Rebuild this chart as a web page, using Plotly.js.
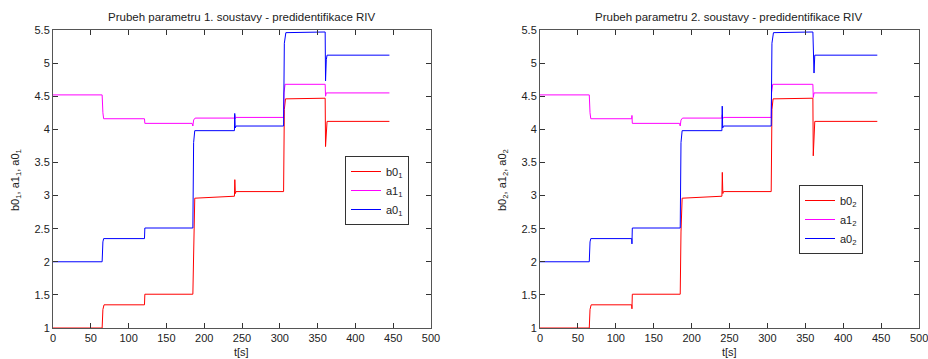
<!DOCTYPE html>
<html>
<head>
<meta charset="utf-8">
<script src="https://cdn.plot.ly/plotly-3.0.1.min.js"></script>
<style>
  html, body { margin: 0; padding: 0; background: #ffffff; overflow: hidden; }
  #chart { width: 940px; height: 359px; }
</style>
</head>
<body>
<div id="chart"></div>
<script>
// Parameter estimates of system 1 (time breakpoints and values)
const t_b0_1 = [0, 65, 66, 67.5, 121, 121.5, 185, 186, 187.5, 240, 240.5, 241.2, 242, 305, 306, 307.5, 360, 360.5, 361.5, 362.5, 445];
const b0_1   = [1.00, 1.00, 1.28, 1.35, 1.35, 1.51, 1.51, 2.45, 2.96, 2.99, 3.24, 3.03, 3.06, 3.06, 4.30, 4.46, 4.47, 3.74, 4.05, 4.12, 4.12];

const t_a1_1 = [0, 65, 66, 67, 121, 121.5, 184, 185, 186, 188, 240, 240.5, 241, 242, 305, 305.5, 307, 360, 360.5, 361.5, 445];
const a1_1   = [4.52, 4.52, 4.25, 4.16, 4.16, 4.09, 4.09, 4.05, 4.14, 4.17, 4.17, 4.21, 4.16, 4.18, 4.18, 4.55, 4.68, 4.68, 4.50, 4.55, 4.55];

const t_a0_1 = [0, 65, 66, 67, 121, 121.5, 185, 186, 187.5, 240, 240.4, 241, 242, 305, 306, 308, 360, 360.5, 361.5, 362.5, 445];
const a0_1   = [2.00, 2.00, 2.30, 2.35, 2.35, 2.51, 2.51, 3.80, 3.98, 3.98, 4.24, 4.02, 4.05, 4.05, 5.30, 5.46, 5.47, 4.73, 5.05, 5.12, 5.12];

// Parameter estimates of system 2
const t_b0_2 = [0, 65, 66, 67.5, 121, 121.3, 121.8, 185, 186, 187.5, 240, 240.5, 241.2, 242, 305, 306, 307.5, 360, 360.5, 361.5, 362.5, 445];
const b0_2   = [1.00, 1.00, 1.28, 1.35, 1.35, 1.29, 1.51, 1.51, 2.45, 2.96, 2.99, 3.35, 3.03, 3.06, 3.06, 4.30, 4.46, 4.47, 3.60, 4.02, 4.12, 4.12];

const t_a1_2 = [0, 65, 66, 67, 121, 121.3, 121.8, 184, 185, 186, 188, 240, 240.5, 241, 242, 305, 305.5, 307, 360, 360.5, 361.5, 445];
const a1_2   = [4.52, 4.52, 4.25, 4.16, 4.16, 4.21, 4.09, 4.09, 4.05, 4.14, 4.17, 4.17, 4.22, 4.16, 4.18, 4.18, 4.55, 4.68, 4.68, 4.48, 4.55, 4.55];

const t_a0_2 = [0, 65, 66, 67, 121, 121.3, 121.8, 185, 186, 187.5, 240, 240.4, 241, 242, 305, 306, 308, 360, 360.5, 361.5, 362.5, 445];
const a0_2   = [2.00, 2.00, 2.30, 2.35, 2.35, 2.27, 2.51, 2.51, 3.80, 3.98, 3.98, 4.35, 4.02, 4.05, 4.05, 5.30, 5.46, 5.47, 5.03, 4.85, 5.12, 5.12];

const xTicks = [0, 50, 100, 150, 200, 250, 300, 350, 400, 450, 500];
const yTicks = [1, 1.5, 2, 2.5, 3, 3.5, 4, 4.5, 5, 5.5];
const yTickText = ['1', '1.5', '2', '2.5', '3', '3.5', '4', '4.5', '5', '5.5'];

const RED = '#ff0000', MAG = '#ff00ff', BLUE = '#0000ff';
const FONT = 'Liberation Sans, Arial, sans-serif';

// Drawing surface is a little wider than the window so the last tick label keeps room
const W = 940, H = 359;
const lastTick = xTicks[xTicks.length - 1];

function line(x, y, color, name, xa, ya, leg) {
  return { x: x, y: y, type: 'scatter', mode: 'lines', name: name,
           line: { color: color, width: 1 }, xaxis: xa, yaxis: ya, legend: leg };
}

const data = [
  line(t_b0_1, b0_1, RED,  'b0<sub>1</sub>', 'x',  'y',  'legend'),
  line(t_a1_1, a1_1, MAG,  'a1<sub>1</sub>', 'x',  'y',  'legend'),
  line(t_a0_1, a0_1, BLUE, 'a0<sub>1</sub>', 'x',  'y',  'legend'),
  line(t_b0_2, b0_2, RED,  'b0<sub>2</sub>', 'x2', 'y2', 'legend2'),
  line(t_a1_2, a1_2, MAG,  'a1<sub>2</sub>', 'x2', 'y2', 'legend2'),
  line(t_a0_2, a0_2, BLUE, 'a0<sub>2</sub>', 'x2', 'y2', 'legend2')
];

const tickFont = { family: FONT, size: 11, color: '#222' };

function xAxis(domain, anchor, texts) {
  return { domain: domain, anchor: anchor, range: [0, 500], tickvals: xTicks, ticktext: texts,
           ticks: 'inside', ticklen: 5, tickcolor: '#333', showline: true, linecolor: '#555',
           linewidth: 1, mirror: 'ticks', showgrid: false, zeroline: false, tickfont: tickFont };
}
function yAxis(anchor) {
  return { domain: [1 - 328 / H, 1 - 30 / H], anchor: anchor, range: [1, 5.5], tickvals: yTicks,
           ticktext: yTickText, ticks: 'inside', ticklen: 5, tickcolor: '#333', showline: true,
           linecolor: '#555', linewidth: 1, mirror: 'ticks', showgrid: false, zeroline: false,
           tickfont: tickFont };
}

const legendStyle = {
  xref: 'paper', yref: 'paper', xanchor: 'left', yanchor: 'top',
  bgcolor: '#ffffff', bordercolor: '#333', borderwidth: 1,
  font: { family: FONT, size: 11, color: '#222' }, tracegroupgap: 0
};

function label(text, px, py, angle, size) {
  return { text: text, xref: 'paper', yref: 'paper', x: px / W, y: 1 - py / H,
           xanchor: 'center', yanchor: 'middle', textangle: angle || 0,
           showarrow: false, font: { family: FONT, size: size || 11, color: '#222' } };
}

const xLabels1 = xTicks.map(String);
// the right-hand axis places its final label as an annotation at the frame corner
const xLabels2 = xTicks.map(v => (v === lastTick ? '' : String(v)));

const layout = {
  width: W, height: H,
  margin: { l: 0, r: 0, t: 0, b: 0 },
  paper_bgcolor: '#ffffff', plot_bgcolor: '#ffffff',
  showlegend: true,
  xaxis: xAxis([53 / W, 431 / W], 'y', xLabels1),
  yaxis: yAxis('x'),
  xaxis2: xAxis([540 / W, 919 / W], 'y2', xLabels2),
  yaxis2: yAxis('x2'),
  legend: Object.assign({ x: 345 / W, y: 1 - 156 / H }, legendStyle),
  legend2: Object.assign({ x: 799 / W, y: 1 - 185 / H }, legendStyle),
  annotations: [
    label('Prubeh parametru 1. soustavy - predidentifikace RIV', 242, 17, 0, 11.5),
    label('Prubeh parametru 2. soustavy - predidentifikace RIV', 729, 17, 0, 11.5),
    label('t[s]', 242, 352),
    label('t[s]', 729, 352),
    label('b0<sub>1</sub>, a1<sub>1</sub>, a0<sub>1</sub>', 16, 180, -90),
    label('b0<sub>2</sub>, a1<sub>2</sub>, a0<sub>2</sub>', 503, 180, -90),
    { text: String(lastTick), xref: 'x2', yref: 'paper', x: lastTick, y: 1 - 338 / H,
      xanchor: 'center', yanchor: 'middle', showarrow: false, font: tickFont }
  ]
};

Plotly.newPlot('chart', data, layout, { staticPlot: true, displayModeBar: false });
</script>
</body>
</html>
